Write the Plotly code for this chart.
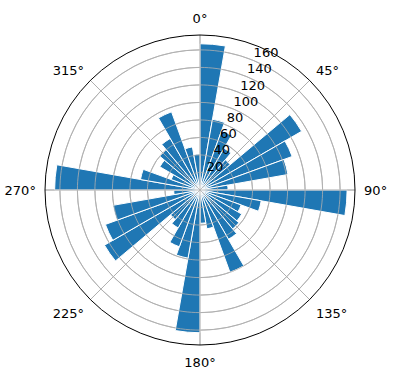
import plotly.graph_objects as go

# bar start angles (degrees, clockwise from north), each bar spans 10 degrees
directions = list(range(0, 360, 10))
values = [167, 82, 72, 55, 45, 134, 112, 102, 32,
          168, 71, 50, 55, 58, 65, 100, 45, 38,
          163, 79, 69, 50, 44, 126, 115, 101, 30,
          166, 69, 35, 53, 60, 68, 95, 50, 41]
bar_width = 10
angle_ticks = [0, 45, 90, 135, 180, 225, 270, 315]
angle_labels = ["0°", "45°", "90°", "135°", "180°", "225°", "270°", "315°"]
radial_ticks = [20, 40, 60, 80, 100, 120, 140, 160]
radial_label_angle = 22.5
r_max = 177
grid_color = "#b0b0b0"

fig = go.Figure()
fig.add_trace(go.Barpolar(
    r=values,
    theta=[d + bar_width / 2 for d in directions],
    width=[bar_width] * len(directions),
    marker=dict(color="#1f77b4", line=dict(color="white", width=1)),
    opacity=1,
    hoverinfo="r+theta",
))

# matplotlib draws its grid above the bars: redraw grid circles and spokes on top
circle_theta = list(range(0, 361, 2))
for rv in radial_ticks:
    fig.add_trace(go.Scatterpolar(
        r=[rv] * len(circle_theta), theta=circle_theta, mode="lines",
        line=dict(color=grid_color, width=0.8), hoverinfo="skip"))
for a in angle_ticks:
    fig.add_trace(go.Scatterpolar(
        r=[0, r_max], theta=[a, a], mode="lines",
        line=dict(color=grid_color, width=0.8), hoverinfo="skip"))

# radial tick labels, anchored like matplotlib's (left/bottom at the label ray)
fig.add_trace(go.Scatterpolar(
    r=radial_ticks,
    theta=[radial_label_angle] * len(radial_ticks),
    text=[str(v) for v in radial_ticks],
    mode="text",
    textposition="top right",
    textfont=dict(size=13, family="DejaVu Sans", color="black"),
    hoverinfo="skip",
    cliponaxis=False,
))

W, H = 396, 380
cx, cy, R = 200, 190, 155
fig.update_layout(
    width=W, height=H,
    margin=dict(l=0, r=0, t=0, b=0),
    paper_bgcolor="white",
    showlegend=False,
    font=dict(family="DejaVu Sans", size=13, color="black"),
    polar=dict(
        domain=dict(x=[(cx - R) / W, (cx + R) / W],
                    y=[(H - cy - R) / H, (H - cy + R) / H]),
        bgcolor="white",
        angularaxis=dict(
            direction="clockwise", rotation=90,
            tickmode="array", tickvals=angle_ticks, ticktext=angle_labels,
            showgrid=True, gridcolor=grid_color, gridwidth=0.8,
            showline=True, linecolor="black", linewidth=1,
            ticks="outside", ticklen=6, tickcolor="rgba(0,0,0,0)",
            tickfont=dict(size=13, family="DejaVu Sans"),
            layer="above traces",
        ),
        radialaxis=dict(
            range=[0, r_max], tickmode="array", tickvals=radial_ticks,
            showgrid=True, gridcolor=grid_color, gridwidth=0.8,
            showline=False, ticks="", showticklabels=False,
        ),
        bargap=0,
    ),
)
fig.write_html("out.html")
